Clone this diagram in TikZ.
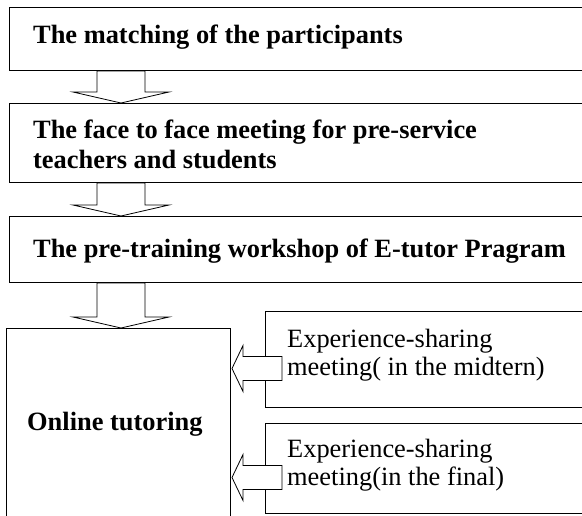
\documentclass[tikz,border=0pt]{standalone}
\usepackage{fontspec}
\setmainfont{Liberation Serif}
\usepackage{tikz}
\usetikzlibrary{positioning}
\usetikzlibrary{calc}
\tikzstyle{block} = [draw, rectangle, line width=1pt, inner sep=0pt, anchor=north west]
\tikzstyle{fatarrow} = [draw, fill=white, line width=0.8pt, line join=miter]
\tikzstyle{heading} = [inner sep=0pt, anchor=base west, align=left, font=\bfseries\fontsize{26.4}{30}\selectfont]
\tikzstyle{remark} = [inner sep=0pt, anchor=base west, align=left, font=\fontsize{26.4}{28}\selectfont]

\begin{document}
\begin{tikzpicture}[x=1pt,y=-1pt]
    \useasboundingbox (0,0) rectangle (582,515);
    % the boxes run on past the right (and bottom) edge of the page
    \node [block, minimum width=600pt, minimum height=63pt] (match) at (9,7) {};
    \node [block, minimum width=600pt, minimum height=79pt] (meet) at (9,103) {};
    \node [block, minimum width=600pt, minimum height=66pt] (workshop) at (9,216) {};
    \node [block, minimum width=224pt, minimum height=220pt] (tutoring) at (6,328) {};
    \node [block, minimum width=340pt, minimum height=96pt] (midterm) at (265,311) {};
    \node [block, minimum width=340pt, minimum height=90pt] (final) at (265,423) {};

    \coordinate (col) at (121,0);
    % hollow arrows down the left column
    \foreach \a/\b in {match/meet, meet/workshop, workshop/tutoring}
        \draw [fatarrow] ($(col |- \a.south)+(-24,0)$) -- ($(col |- \b.north)+(-24,-11)$) -- ++(-24,0)
            -- (col |- \b.north) -- ++(48,-11) -- ++(-24,0) -- ($(col |- \a.south)+(24,0)$) -- cycle;

    % hollow arrows from the meetings into the tutoring box
    \foreach \b in {midterm, final} {
        \coordinate (tip) at ($(tutoring.east |- \b.west)+(1,9)$);
        \draw [fatarrow] (tip) -- ++(11,-23) -- ++(0,11) -- ($(\b.west)+(17,-3)$) -- ++(0,24)
            -- ($(tip)+(11,12)$) -- ++(0,11) -- cycle;
    }

    % base of a two-line node is its last line
    \node [heading] (matchtxt) at ($(match.north west)+(24,36)$) {The matching of the participants};
    \node [heading] (meettxt) at ($(meet.north west)+(24,65)$) {The face to face meeting for pre-service\\teachers and students};
    \node [heading] (workshoptxt) at ($(workshop.north west)+(24,41)$) {The pre-training workshop of E-tutor Pragram};
    \node [heading] (tutoringtxt) at ($(tutoring.north west)+(21,102)$) {Online tutoring};
    \node [remark] (midtermtxt) at ($(midterm.north west)+(22,64)$) {Experience-sharing\\meeting( in the midtern)};
    \node [remark] (finaltxt) at ($(final.north west)+(22,62)$) {Experience-sharing\\meeting(in the final)};
\end{tikzpicture}
\end{document}
